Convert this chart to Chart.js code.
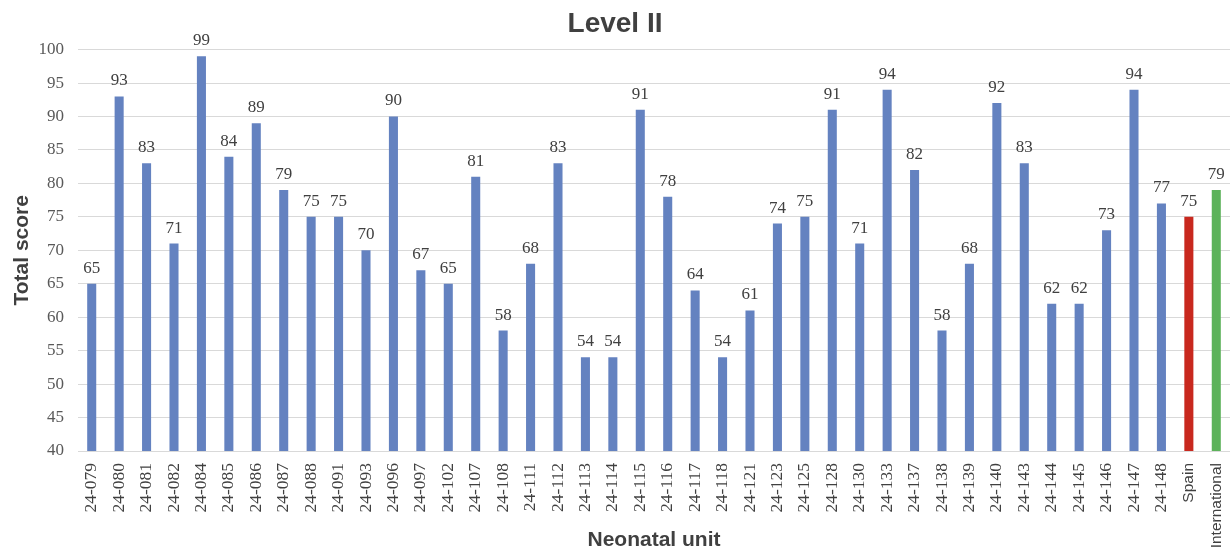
<!DOCTYPE html>
<html>
<head>
<meta charset="utf-8">
<script src="https://cdn.jsdelivr.net/npm/chart.js@4/dist/chart.umd.min.js"></script>
<style>
html,body{margin:0;padding:0;background:#fff;}
#wrap{width:1231px;height:553px;}
</style>
</head>
<body>
<div id="wrap"><canvas id="c" width="1231" height="553"></canvas></div>
<script>
const categories = ["24-079","24-080","24-081","24-082","24-084","24-085","24-086","24-087","24-088","24-091","24-093","24-096","24-097","24-102","24-107","24-108","24-111","24-112","24-113","24-114","24-115","24-116","24-117","24-118","24-121","24-123","24-125","24-128","24-130","24-133","24-137","24-138","24-139","24-140","24-143","24-144","24-145","24-146","24-147","24-148","Spain","International"];
const totalScores = [65,93,83,71,99,84,89,79,75,75,70,90,67,65,81,58,68,83,54,54,91,78,64,54,61,74,75,91,71,94,82,58,68,92,83,62,62,73,94,77,75,79];
const yTicks = [40,45,50,55,60,65,70,75,80,85,90,95,100];

const BLUE = '#6482C0', RED = '#C8281E', GREEN = '#5CB25A';
const barColors = categories.map(c => c === 'Spain' ? RED : (c === 'International' ? GREEN : BLUE));

const valueLabels = {
  id: 'valueLabels',
  afterDatasetsDraw(chart) {
    const ctx = chart.ctx;
    const meta = chart.getDatasetMeta(0);
    ctx.save();
    ctx.font = '17px "Liberation Serif", serif';
    ctx.fillStyle = '#404040';
    ctx.textAlign = 'center';
    ctx.textBaseline = 'bottom';
    meta.data.forEach((bar, i) => {
      ctx.fillText(String(chart.data.datasets[0].data[i]), bar.x, bar.y - 7);
    });
    ctx.restore();
  }
};

new Chart(document.getElementById('c'), {
  type: 'bar',
  data: {
    labels: categories,
    datasets: [{
      data: totalScores,
      backgroundColor: barColors,
      borderWidth: 0,
      barPercentage: 0.33,
      categoryPercentage: 1.0
    }]
  },
  options: {
    responsive: false,
    animation: false,
    devicePixelRatio: 1,
    layout: { padding: { left: 0, right: 1, top: 0, bottom: 0 } },
    plugins: {
      legend: { display: false },
      tooltip: { enabled: false },
      title: {
        display: true,
        text: 'Level II',
        color: '#404040',
        font: { family: '"Liberation Sans", Arial, sans-serif', size: 28, weight: 'bold', lineHeight: 1.2 },
        padding: { top: 7, bottom: 9 }
      }
    },
    scales: {
      x: {
        grid: { display: false },
        border: { display: false },
        ticks: {
          autoSkip: false,
          minRotation: 90,
          maxRotation: 90,
          padding: 4,
          color: '#404040',
          font: (ctx) => {
            const lbl = categories[ctx.index];
            if (lbl === 'Spain' || lbl === 'International') {
              return { family: '"Liberation Sans", Arial, sans-serif', size: 15.5 };
            }
            return { family: '"Liberation Serif", serif', size: 17.5 };
          }
        },
        title: {
          display: true,
          text: 'Neonatal unit',
          color: '#404040',
          font: { family: '"Liberation Sans", Arial, sans-serif', size: 21, weight: 'bold', lineHeight: 1.2 },
          padding: { top: 0, bottom: 0 }
        },
        afterFit: (scale) => { scale.height = 102; scale.paddingLeft = 0; scale.paddingRight = 0; }
      },
      y: {
        min: 40,
        max: 100,
        afterBuildTicks: (scale) => { scale.ticks = yTicks.map(v => ({ value: v })); },
        grid: { color: '#d9d9d9', lineWidth: 1, drawTicks: false },
        border: { display: false },
        ticks: {
          padding: 14,
          color: '#595959',
          font: { family: '"Liberation Serif", serif', size: 17 }
        },
        title: {
          display: true,
          text: 'Total score',
          color: '#404040',
          font: { family: '"Liberation Sans", Arial, sans-serif', size: 21, weight: 'bold', lineHeight: 1.2 },
          padding: { top: 10, bottom: 0 }
        },
        afterFit: (scale) => { scale.width = 78; scale.paddingTop = 0; scale.paddingBottom = 0; }
      }
    }
  },
  plugins: [valueLabels]
});
</script>
</body>
</html>
